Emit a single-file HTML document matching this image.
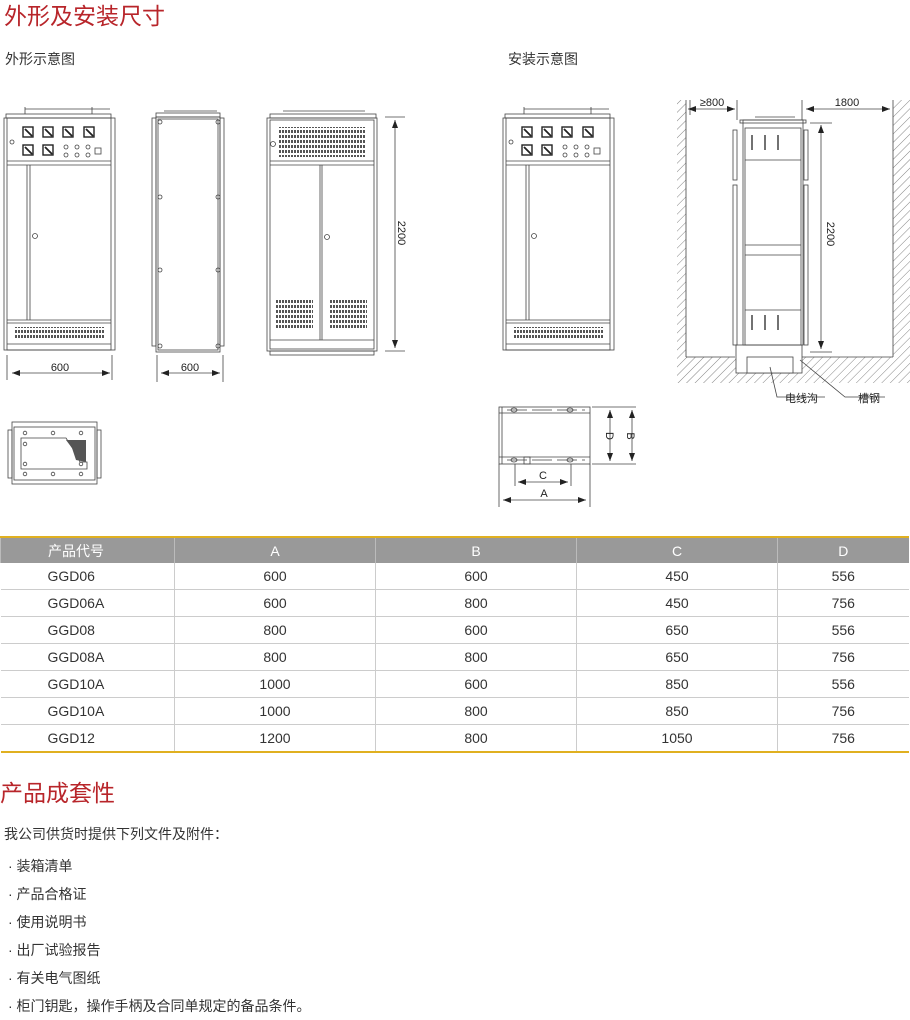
<!DOCTYPE html>
<html><head><meta charset="utf-8"><style>
body{margin:0;width:910px;height:1010px;background:#fff;position:relative;overflow:hidden;font-family:"Liberation Sans","Noto Sans CJK SC",sans-serif;color:#333}
.t{position:absolute;white-space:nowrap}
.red{color:#b8252a;font-size:23px}
table{position:absolute;left:0;top:536px;width:908px;border-collapse:collapse;table-layout:fixed;font-size:14px;color:#333}
td{height:26px;padding:0;text-align:center;border-left:1px solid #ccc;border-bottom:1px solid #ccc}
td:first-child{border-left:none;text-align:left;padding-left:47px}
tr.h td{background:#999;color:#fff;border-left:1px solid #bbb;border-bottom:none;border-top:2px solid #e0b020;height:25px}
tr:last-child td{border-bottom:2px solid #e0b020}
</style></head><body>
<div class="t red" style="left:4px;top:-3px">外形及安装尺寸</div>
<div class="t" style="left:5px;top:49px;font-size:14px">外形示意图</div>
<div class="t" style="left:508px;top:49px;font-size:14px">安装示意图</div>

<svg width="910" height="520" style="position:absolute;left:0;top:0" fill="none" stroke="#444" stroke-width="0.8">
<defs>
<pattern id="hat" width="6" height="6" patternUnits="userSpaceOnUse" patternTransform="rotate(45)"><line x1="0" y1="0" x2="0" y2="6" stroke="#666" stroke-width="0.8"/></pattern>
<pattern id="vent" width="3" height="5" patternUnits="userSpaceOnUse"><rect x="0" y="0" width="2" height="3" fill="#555" stroke="none"/></pattern>
<marker id="ar" markerWidth="8" markerHeight="6" refX="8" refY="3" orient="auto" markerUnits="userSpaceOnUse"><path d="M0,0L8,3L0,6z" fill="#222" stroke="none"/></marker>
<marker id="al" markerWidth="8" markerHeight="6" refX="0" refY="3" orient="auto" markerUnits="userSpaceOnUse"><path d="M8,0L0,3L8,6z" fill="#222" stroke="none"/></marker>
<g id="front">
<line x1="25" y1="109" x2="110" y2="109"/><line x1="25" y1="107" x2="25" y2="114"/><line x1="92" y1="107" x2="92" y2="114"/>
<rect x="6" y="114" width="105" height="4"/>
<rect x="4" y="118" width="111" height="232"/>
<rect x="7" y="118" width="104" height="232"/>
<line x1="7" y1="161" x2="111" y2="161"/><line x1="7" y1="165" x2="111" y2="165"/>
<g stroke-width="1.4" stroke="#222"><rect x="23" y="127" width="10" height="10"/><rect x="43" y="127" width="10" height="10"/><rect x="63" y="127" width="10" height="10"/><rect x="84" y="127" width="10" height="10"/><rect x="23" y="145" width="10" height="10"/><rect x="43" y="145" width="10" height="10"/>
<path d="M25,129L32,136M45,129L52,136M65,129L72,136M86,129L93,136M25,147L32,154M45,147L52,154" stroke-width="1.8"/></g>
<g><circle cx="66" cy="147" r="2"/><circle cx="77" cy="147" r="2"/><circle cx="88" cy="147" r="2"/><circle cx="66" cy="155" r="2"/><circle cx="77" cy="155" r="2"/><circle cx="88" cy="155" r="2"/><rect x="95" y="148" width="6" height="6"/><circle cx="12" cy="142" r="2"/></g>
<line x1="27" y1="165" x2="27" y2="320"/><line x1="30" y1="165" x2="30" y2="320"/>
<circle cx="35" cy="236" r="2.5"/>
<line x1="7" y1="320" x2="111" y2="320"/><line x1="7" y1="323" x2="111" y2="323"/>
<rect x="14" y="327" width="91" height="13" fill="url(#vent)" stroke="none"/>
<line x1="7" y1="344" x2="111" y2="344"/>
</g>
</defs>
<use href="#front"/>
<line x1="7" y1="355" x2="7" y2="380"/><line x1="112" y1="355" x2="112" y2="380"/>
<line x1="12" y1="373" x2="110" y2="373" marker-start="url(#al)" marker-end="url(#ar)"/>
<text x="60" y="371" font-size="11" fill="#222" stroke="none" text-anchor="middle" font-family="Liberation Sans">600</text>
<!-- side -->
<line x1="164" y1="111" x2="217" y2="111"/><rect x="156" y="113" width="64" height="4"/>
<rect x="152" y="118" width="4" height="228"/><rect x="220" y="118" width="4" height="228"/>
<rect x="156" y="117" width="64" height="235"/><rect x="158" y="119" width="60" height="231"/>
<g><circle cx="160" cy="122" r="2"/><circle cx="218" cy="122" r="2"/><circle cx="160" cy="197" r="2"/><circle cx="218" cy="197" r="2"/><circle cx="160" cy="270" r="2"/><circle cx="218" cy="270" r="2"/><circle cx="160" cy="346" r="2"/><circle cx="218" cy="346" r="2"/></g>
<line x1="157" y1="355" x2="157" y2="382"/><line x1="223" y1="355" x2="223" y2="382"/>
<line x1="161" y1="373" x2="220" y2="373" marker-start="url(#al)" marker-end="url(#ar)"/>
<text x="190" y="371" font-size="11" fill="#222" stroke="none" text-anchor="middle" font-family="Liberation Sans">600</text>
<!-- back -->
<line x1="283" y1="111" x2="365" y2="111"/><rect x="270" y="114" width="106" height="4"/>
<rect x="267" y="118" width="110" height="233"/><rect x="270" y="120" width="104" height="229"/>
<rect x="278" y="127" width="87" height="30" fill="url(#vent)" stroke="none"/>
<circle cx="273" cy="144" r="2.5"/>
<line x1="270" y1="161" x2="374" y2="161"/><line x1="270" y1="165" x2="374" y2="165"/>
<line x1="320" y1="165" x2="320" y2="340"/><line x1="322" y1="165" x2="322" y2="340"/>
<circle cx="327" cy="237" r="2.5"/>
<rect x="276" y="299" width="37" height="31" fill="url(#vent)" stroke="none"/>
<rect x="329" y="299" width="38" height="31" fill="url(#vent)" stroke="none"/>
<line x1="270" y1="340" x2="374" y2="340"/><rect x="270" y="351" width="104" height="4"/>
<line x1="385" y1="117" x2="405" y2="117"/><line x1="385" y1="351" x2="405" y2="351"/>
<line x1="395" y1="120" x2="395" y2="348" marker-start="url(#al)" marker-end="url(#ar)"/>
<text x="398" y="233" font-size="11" fill="#222" stroke="none" text-anchor="middle" transform="rotate(90 398 233)" font-family="Liberation Sans">2200</text>
<!-- install front -->
<use href="#front" transform="translate(499,0)"/>
<!-- install side -->
<rect x="677" y="100" width="9" height="257" fill="url(#hat)" stroke="none"/>
<rect x="893" y="100" width="17" height="257" fill="url(#hat)" stroke="none"/>
<rect x="677" y="357" width="233" height="26" fill="url(#hat)" stroke="none"/>
<line x1="686" y1="100" x2="686" y2="357"/><line x1="893" y1="100" x2="893" y2="357"/>
<line x1="686" y1="357" x2="735" y2="357"/><line x1="802" y1="357" x2="893" y2="357"/>
<rect x="736" y="345" width="66" height="28" fill="#fff"/><rect x="747" y="357" width="46" height="16" fill="#fff"/>
<rect x="743" y="120" width="60" height="225" fill="#fff"/><rect x="745" y="128" width="56" height="217"/>
<line x1="755" y1="117" x2="795" y2="117"/><rect x="740" y="120" width="66" height="3"/>
<line x1="745" y1="160" x2="801" y2="160"/><line x1="745" y1="245" x2="801" y2="245"/><line x1="745" y1="255" x2="801" y2="255"/><line x1="745" y1="310" x2="801" y2="310"/>
<rect x="733" y="130" width="4" height="50"/><rect x="733" y="185" width="4" height="160"/><rect x="804" y="130" width="4" height="50"/><rect x="804" y="185" width="4" height="160"/>
<path d="M752,135v15M765,135v15M778,135v15M752,315v15M765,315v15M778,315v15" stroke-width="1.5"/>
<line x1="690" y1="100" x2="690" y2="115"/><line x1="737" y1="100" x2="737" y2="120"/><line x1="802" y1="100" x2="802" y2="120"/>
<line x1="688" y1="109" x2="735" y2="109" marker-start="url(#al)" marker-end="url(#ar)"/>
<line x1="806" y1="109" x2="890" y2="109" marker-start="url(#al)" marker-end="url(#ar)"/>
<text x="712" y="106" font-size="11" fill="#222" stroke="none" text-anchor="middle" font-family="Liberation Sans">≥800</text>
<text x="847" y="106" font-size="11" fill="#222" stroke="none" text-anchor="middle" font-family="Liberation Sans">1800</text>
<line x1="810" y1="123" x2="832" y2="123"/><line x1="810" y1="352" x2="832" y2="352"/>
<line x1="821" y1="125" x2="821" y2="349" marker-start="url(#al)" marker-end="url(#ar)"/>
<text x="827" y="234" font-size="11" fill="#222" stroke="none" text-anchor="middle" transform="rotate(90 827 234)" font-family="Liberation Sans">2200</text>
<path d="M770,367L777,397L825,397M800,360L845,397L885,397"/>
<text x="785" y="402" font-size="11" fill="#222" stroke="none" font-family="Noto Sans CJK SC">电线沟</text>
<text x="858" y="402" font-size="11" fill="#222" stroke="none" font-family="Noto Sans CJK SC">槽钢</text>
<!-- plan -->
<rect x="8" y="430" width="4" height="48"/><rect x="97" y="430" width="4" height="48"/>
<rect x="12" y="422" width="85" height="62"/><rect x="14" y="427" width="81" height="53"/>
<path d="M21,438H66L75,452L80,462H87V469H21Z"/>
<path d="M66,440L86,440L86,462L76,460L72,448Z" fill="#555" stroke="none"/>
<g><circle cx="25" cy="433" r="1.8"/><circle cx="53" cy="433" r="1.8"/><circle cx="81" cy="433" r="1.8"/><circle cx="25" cy="474" r="1.8"/><circle cx="53" cy="474" r="1.8"/><circle cx="81" cy="474" r="1.8"/><circle cx="25" cy="444" r="1.8"/><circle cx="25" cy="464" r="1.8"/><circle cx="81" cy="464" r="1.8"/></g>
<!-- base -->
<rect x="499" y="407" width="91" height="57"/><line x1="502" y1="407" x2="502" y2="464"/>
<line x1="499" y1="413" x2="590" y2="413"/><line x1="499" y1="457" x2="590" y2="457"/>
<line x1="507" y1="410" x2="585" y2="410" stroke-dasharray="20 5"/><line x1="507" y1="460" x2="585" y2="460" stroke-dasharray="20 5"/>
<ellipse cx="514" cy="410" rx="3" ry="2"/><ellipse cx="570" cy="410" rx="3" ry="2"/><ellipse cx="514" cy="460" rx="3" ry="2"/><ellipse cx="570" cy="460" rx="3" ry="2"/>
<rect x="524" y="457" width="6" height="7"/>
<line x1="592" y1="407" x2="636" y2="407"/><line x1="592" y1="464" x2="636" y2="464"/>
<line x1="610" y1="410" x2="610" y2="461" marker-start="url(#al)" marker-end="url(#ar)"/>
<line x1="632" y1="410" x2="632" y2="461" marker-start="url(#al)" marker-end="url(#ar)"/>
<text x="606" y="436" font-size="11" fill="#222" stroke="none" text-anchor="middle" transform="rotate(90 606 436)" font-family="Liberation Sans">D</text>
<text x="627" y="436" font-size="11" fill="#222" stroke="none" text-anchor="middle" transform="rotate(90 627 436)" font-family="Liberation Sans">B</text>
<line x1="515" y1="464" x2="515" y2="486"/><line x1="571" y1="464" x2="571" y2="486"/>
<line x1="499" y1="464" x2="499" y2="507"/><line x1="590" y1="464" x2="590" y2="507"/>
<line x1="518" y1="482" x2="568" y2="482" marker-start="url(#al)" marker-end="url(#ar)"/>
<line x1="503" y1="500" x2="586" y2="500" marker-start="url(#al)" marker-end="url(#ar)"/>
<text x="543" y="479" font-size="11" fill="#222" stroke="none" text-anchor="middle" font-family="Liberation Sans">C</text>
<text x="544" y="497" font-size="11" fill="#222" stroke="none" text-anchor="middle" font-family="Liberation Sans">A</text>
</svg>

<table>
<colgroup><col style="width:174px"><col style="width:201px"><col style="width:201px"><col style="width:201px"><col style="width:131px"></colgroup>
<tr class="h"><td>产品代号</td><td>A</td><td>B</td><td>C</td><td>D</td></tr>
<tr><td>GGD06</td><td>600</td><td>600</td><td>450</td><td>556</td></tr>
<tr><td>GGD06A</td><td>600</td><td>800</td><td>450</td><td>756</td></tr>
<tr><td>GGD08</td><td>800</td><td>600</td><td>650</td><td>556</td></tr>
<tr><td>GGD08A</td><td>800</td><td>800</td><td>650</td><td>756</td></tr>
<tr><td>GGD10A</td><td>1000</td><td>600</td><td>850</td><td>556</td></tr>
<tr><td>GGD10A</td><td>1000</td><td>800</td><td>850</td><td>756</td></tr>
<tr><td>GGD12</td><td>1200</td><td>800</td><td>1050</td><td>756</td></tr>
</table>

<div class="t red" style="left:0;top:774px">产品成套性</div>
<div class="t" style="left:4px;top:824px;font-size:14px">我公司供货时提供下列文件及附件：</div>
<div class="t" style="left:8px;top:852px;font-size:14px;line-height:28px">· 装箱清单<br>· 产品合格证<br>· 使用说明书<br>· 出厂试验报告<br>· 有关电气图纸<br>· 柜门钥匙，操作手柄及合同单规定的备品条件。</div>
</body></html>
